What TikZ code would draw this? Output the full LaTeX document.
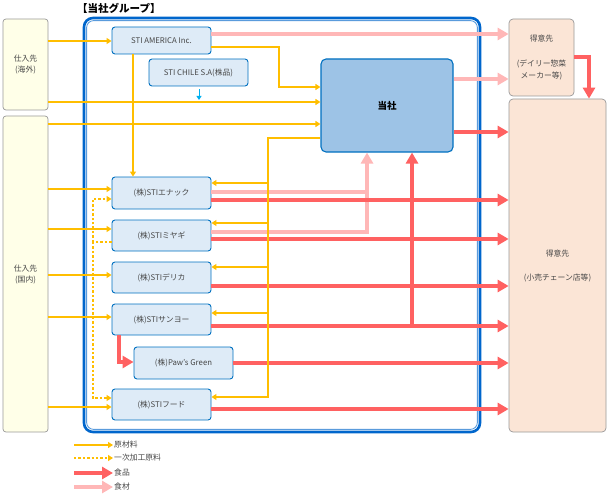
\documentclass[tikz,border=0pt]{standalone}
\usepackage{fontspec}
\setmainfont{Noto Sans CJK JP}
\usetikzlibrary{arrows.meta}
\definecolor{orng}{RGB}{255,190,0}
\definecolor{redL}{RGB}{255,97,97}
\definecolor{pinkL}{RGB}{255,183,183}
\definecolor{fillB}{RGB}{222,235,247}
\definecolor{bordB}{RGB}{0,112,192}
\definecolor{hqfill}{RGB}{157,195,230}
\definecolor{peach}{RGB}{251,229,214}
\definecolor{yel}{RGB}{255,255,232}
\definecolor{grpdark}{RGB}{0,102,204}
\definecolor{grplight}{RGB}{90,155,220}
\definecolor{txt}{RGB}{70,70,70}
\definecolor{cyanA}{RGB}{0,176,240}
\tikzset{
  co/.style={draw=bordB, fill=fillB, rounded corners=3pt, line width=0.9pt, inner sep=0pt,
    minimum width=99pt, text=txt, font=\fontsize{7.8}{9}\selectfont},
  supbox/.style={draw=black!40, fill=yel, rounded corners=3pt, line width=0.7pt, inner sep=0pt,
    minimum width=45pt, text=txt, align=center, font=\fontsize{7.8}{11}\selectfont},
  custbox/.style={draw=black!40, fill=peach, rounded corners=4pt, line width=0.7pt, inner sep=0pt,
    text=txt, align=center, font=\fontsize{7.8}{12}\selectfont},
  raw/.style={draw=orng, line width=1.6pt, -{Triangle[length=5pt,width=6pt]}},
  rawl/.style={draw=orng, line width=1.6pt},
  semi/.style={raw, dash pattern=on 2.4pt off 2pt},
  semil/.style={rawl, dash pattern=on 2.4pt off 2pt},
  foodarr/.style={draw=redL, line width=3.6pt, -{Triangle[length=11pt,width=12pt]}},
  foodl/.style={draw=redL, line width=3.6pt},
  ingarr/.style={draw=pinkL, line width=3.6pt, -{Triangle[length=11pt,width=12pt]}},
  ingl/.style={draw=pinkL, line width=3.6pt},
  lgtext/.style={anchor=west, inner sep=1pt, text=txt, font=\fontsize{7.8}{9}\selectfont}
}
\begin{document}
\begin{tikzpicture}[x=1pt,y=-1pt]
\useasboundingbox (0,0) rectangle (609,497);
% group frame
\draw[grpdark, line width=2.6pt, rounded corners=9pt] (84,18) rectangle (480,432);
\draw[grplight, line width=0.9pt, rounded corners=7pt] (86.6,20.6) rectangle (477.4,429.4);
\node[font=\bfseries\fontsize{10.5}{12}\selectfont, anchor=west, inner sep=0pt] (title) at (77,8) {【当社グループ】};

% boxes
\node[supbox, minimum height=91pt] (supA) at (25.5,64.5) {仕入先\\(海外)};
\node[supbox, minimum height=316pt] (supD) at (25.5,274) {仕入先\\(国内)};
\node[co, minimum height=27pt] (amer) at (161.5,40.5) {STI AMERICA Inc.};
\node[co, minimum height=27pt] (chile) at (198.5,72.5) {STI CHILE S.A(株品)};
\node[draw=bordB, fill=hqfill, rounded corners=5pt, line width=1.1pt, minimum width=132pt, minimum height=93pt,
  font=\bfseries\fontsize{9.5}{10}\selectfont] (hq) at (387,105.5) {当社};
\node[custbox, minimum width=65pt, minimum height=77pt] (cust1) at (541.5,57.5) {得意先\\[13pt](デイリー惣菜\\メーカー等)};
\node[custbox, minimum width=97pt, minimum height=333pt] (cust2) at (557.5,265.5) {得意先\\[12pt](小売チェーン店等)};
\node[co, minimum height=32pt] (enak) at (161.5,193) {(株)STIエナック};
\node[co, minimum height=31pt] (miya) at (161.5,235.5) {(株)STIミヤギ};
\node[co, minimum height=31pt] (deli) at (161.5,277.5) {(株)STIデリカ};
\node[co, minimum height=31pt] (sany) at (161.5,319.5) {(株)STIサンヨー};
\node[co, minimum height=32pt] (paws) at (183.5,363) {(株)Paw's Green};
\node[co, minimum height=31pt] (food) at (161.5,404.5) {(株)STIフード};

% pink (ingredients)
\draw[ingarr] (amer.east |- 0,34) -- (cust1.west |- 0,34);
\draw[ingarr] (hq.east |- 0,79) -- (cust1.west |- 0,79);
\draw[ingl] (miya.east |- 0,232) -- (367,232) -- (367,190);
\draw[ingarr] (enak.east |- 0,192) -- (367,192) -- (hq.south -| 367,0);

% red (food)
\draw[foodarr] (hq.east |- 0,132) -- (cust2.west |- 0,132);
\draw[foodarr] (enak.east |- 0,200) -- (cust2.west |- 0,200);
\draw[foodarr] (miya.east |- 0,239) -- (cust2.west |- 0,239);
\draw[foodarr] (deli.east |- 0,286) -- (cust2.west |- 0,286);
\draw[foodarr] (sany.east |- 0,326) -- (cust2.west |- 0,326);
\draw[foodarr] (paws.east |- 0,363) -- (cust2.west |- 0,363);
\draw[foodarr] (food.east |- 0,409) -- (cust2.west |- 0,409);
\draw[foodarr] (412,328) -- (hq.south -| 412,0);
\draw[foodarr] (sany.south -| 119,0) -- (119,362) -- (paws.west |- 0,362);
\draw[foodarr] (cust1.east |- 0,57) -- (589,57) -- (cust2.north -| 589,0);

% orange (raw materials)
\draw[raw] (supA.east |- 0,41) -- (amer.west |- 0,41);
\draw[raw] (supA.east |- 0,102) -- (hq.west |- 0,102);
\draw[raw] (amer.east |- 0,47) -- (279,47) -- (279,87) -- (hq.west |- 0,87);
\draw[raw] (supD.east |- 0,124) -- (hq.west |- 0,124);
\draw[raw] (amer.south -| 133,0) -- (enak.north -| 133,0);
\draw[raw] (supD.east |- 0,189) -- (enak.west |- 0,189);
\draw[raw] (supD.east |- 0,229) -- (miya.west |- 0,229);
\draw[raw] (supD.east |- 0,275) -- (deli.west |- 0,275);
\draw[raw] (supD.east |- 0,317) -- (sany.west |- 0,317);
\draw[raw] (supD.east |- 0,407) -- (food.west |- 0,407);
% bus from hq
\draw[raw] (hq.west |- 0,138) -- (268,138) -- (268,397) -- (food.east |- 0,397);
\draw[raw] (268,183) -- (enak.east |- 0,183);
\draw[raw] (268,223) -- (miya.east |- 0,223);
\draw[raw] (268,267) -- (deli.east |- 0,267);
\draw[raw] (268,313) -- (sany.east |- 0,313);
% semi-processed
\draw[semil] (miya.west |- 0,242) -- (93,242);
\draw[semi] (93,242) -- (93,199) -- (enak.west |- 0,199);
\draw[semi] (93,242) -- (93,398) -- (food.west |- 0,398);
% chile
\coordinate (chileend) at (199,100);
\draw[cyanA, line width=1pt, -{Triangle[length=4pt,width=5pt]}] (chile.south -| 199,0) ++(0,3) -- (chileend);

% legend
\node[lgtext] (lg1) at (113,445) {原材料};
\node[lgtext] (lg2) at (113,458) {一次加工原料};
\node[lgtext] (lg3) at (113,473) {食品};
\node[lgtext] (lg4) at (113,487) {食材};
\draw[raw] (74,445) -- (lg1.west);
\draw[semi] (74,458) -- (lg2.west);
\draw[foodarr] (74,473) -- (lg3.west);
\draw[ingarr] (74,487) -- (lg4.west);
\end{tikzpicture}
\end{document}
